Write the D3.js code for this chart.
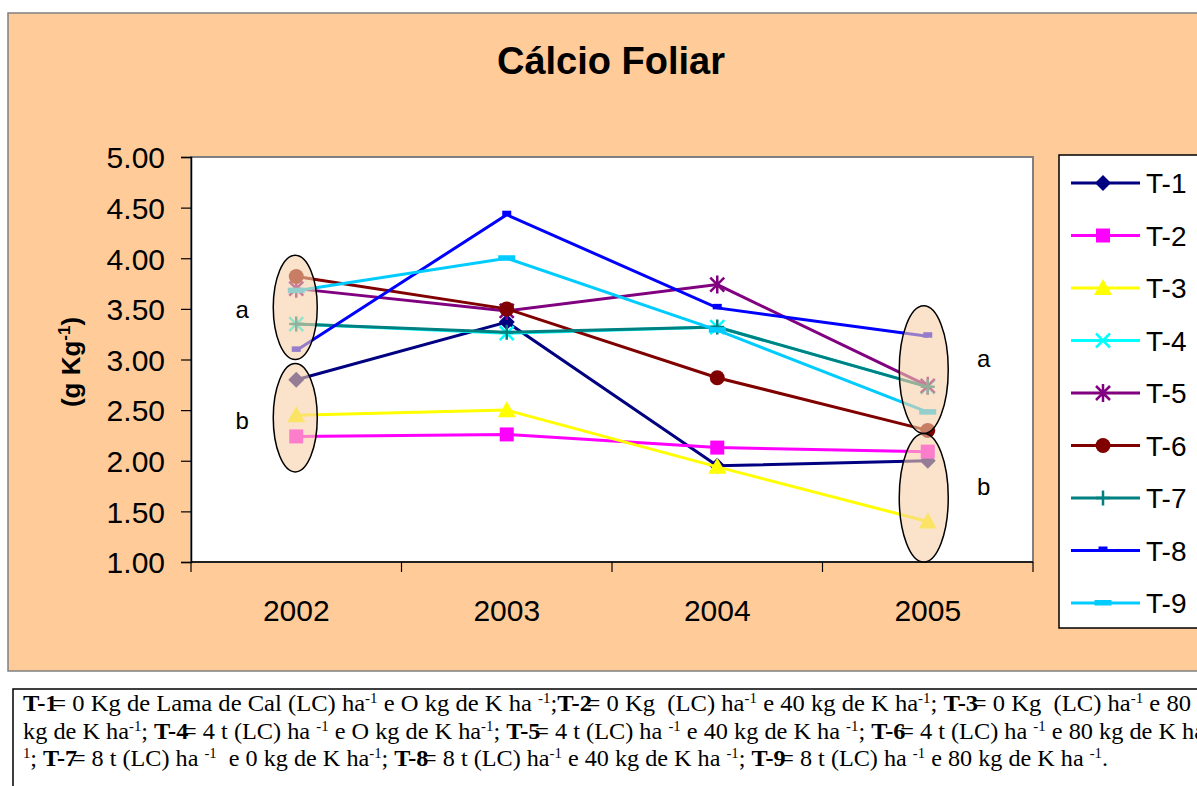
<!DOCTYPE html>
<html>
<head>
<meta charset="utf-8">
<script src="https://cdn.jsdelivr.net/npm/d3@7"></script>
<style>
  html, body { margin: 0; padding: 0; background: #fff; }
  svg { display: block; }
</style>
</head>
<body>
<svg id="chart" width="1197" height="786"></svg>
<script>
// Years and leaf calcium per treatment (g Kg-1)
const years = ["2002", "2003", "2004", "2005"];
const seriesNames = ["T-1", "T-2", "T-3", "T-4", "T-5", "T-6", "T-7", "T-8", "T-9"];
const t1 = [2.80, 3.37, 1.95, 2.00];
const t2 = [2.24, 2.26, 2.13, 2.09];
const t3 = [2.45, 2.50, 1.94, 1.40];
const t4 = [3.35, 3.26, 3.32, 2.73];
const t5 = [3.70, 3.48, 3.74, 2.74];
const t6 = [3.82, 3.50, 2.82, 2.30];
const t7 = [3.35, 3.27, 3.32, 2.73];
const t8 = [3.09, 4.43, 3.51, 3.23];
const t9 = [3.68, 4.00, 3.29, 2.48];
const seriesValues = [t1, t2, t3, t4, t5, t6, t7, t8, t9];
const yTicks = [1.00, 1.50, 2.00, 2.50, 3.00, 3.50, 4.00, 4.50, 5.00];

// Statistical groupings (a / b) circled at the first and last year
const groupYears = ["2002", "2002", "2005", "2005"];
const groupLetters = ["a", "b", "a", "b"];
const groupHigh = [4.03, 2.96, 3.53, 2.27];
const groupLow = [3.00, 1.89, 2.27, 1.00];
const groupLetterAt = [3.49, 2.40, 3.01, 1.74];

// Caption lines: [text, kind] with kind b = bold, s = superscript, n = normal
const captionLines = [
  [["T-1", "b"], ["= 0 Kg de Lama de Cal (LC) ha", "n"], ["-1", "s"], [" e O kg de K ha ", "n"], ["-1", "s"], [";", "n"],
   ["T-2", "b"], ["= 0 Kg  (LC) ha", "n"], ["-1", "s"], [" e 40 kg de K ha", "n"], ["-1", "s"], ["; ", "n"],
   ["T-3", "b"], ["= 0 Kg  (LC) ha", "n"], ["-1", "s"], [" e 80", "n"]],
  [["kg de K ha", "n"], ["-1", "s"], ["; ", "n"], ["T-4", "b"], ["= 4 t (LC) ha ", "n"], ["-1", "s"], [" e O kg de K ha", "n"], ["-1", "s"], ["; ", "n"],
   ["T-5", "b"], ["= 4 t (LC) ha ", "n"], ["-1", "s"], [" e 40 kg de K ha ", "n"], ["-1", "s"], ["; ", "n"],
   ["T-6", "b"], ["= 4 t (LC) ha ", "n"], ["-1", "s"], [" e 80 kg de K ha", "n"]],
  [["1", "s"], ["; ", "n"], ["T-7", "b"], ["= 8 t (LC) ha ", "n"], ["-1", "s"], ["  e 0 kg de K ha", "n"], ["-1", "s"], ["; ", "n"],
   ["T-8", "b"], ["= 8 t (LC) ha", "n"], ["-1", "s"], [" e 40 kg de K ha ", "n"], ["-1", "s"], ["; ", "n"],
   ["T-9", "b"], ["= 8 t (LC) ha ", "n"], ["-1", "s"], [" e 80 kg de K ha ", "n"], ["-1", "s"], [".", "n"]]
];

// Styling per series
const colors = ["#000080", "#FF00FF", "#FFFF00", "#00FFFF", "#800080", "#800000", "#008080", "#0000FF", "#00CCFF"];
const markers = ["diamond", "square", "triangle", "x", "star", "circle", "plus", "dash", "longdash"];

const svg = d3.select("#chart");
const font = "Arial, 'Liberation Sans', sans-serif";

// Chart area
svg.append("rect").attr("x", 8).attr("y", 13).attr("width", 1220).attr("height", 658)
  .attr("fill", "#FFCC99").attr("stroke", "#808080").attr("stroke-width", 1.5);

// Plot area
const plot = { left: 191, right: 1033, top: 157, bottom: 562 };
const x = d3.scaleBand().domain(years).range([plot.left, plot.right]).paddingInner(0).paddingOuter(0);
const cx = d => x(d) + x.bandwidth() / 2;
const y = d3.scaleLinear().domain([1, 5]).range([plot.bottom, plot.top]);

svg.append("rect").attr("x", plot.left).attr("y", plot.top)
  .attr("width", plot.right - plot.left).attr("height", plot.bottom - plot.top)
  .attr("fill", "#fff").attr("stroke", "#808080").attr("stroke-width", 2);

// Title
svg.append("text").attr("x", 611).attr("y", 74).attr("text-anchor", "middle")
  .attr("font-family", font).attr("font-weight", "bold").attr("font-size", 38)
  .text("Cálcio Foliar");

// Y axis
const yAxis = d3.axisLeft(y).tickValues(yTicks).tickFormat(d3.format(".2f")).tickSize(10).tickPadding(16);
const yg = svg.append("g").attr("transform", `translate(${plot.left},0)`).call(yAxis);
yg.select(".domain").attr("stroke", "#000").attr("stroke-width", 1.5);
yg.selectAll(".tick line").attr("stroke", "#000").attr("stroke-width", 1.2);
yg.selectAll(".tick text").attr("font-family", font).attr("font-size", 30).attr("fill", "#000")
  .attr("dy", "0.36em");

// X axis: ticks between categories
const xAxisG = svg.append("g").attr("transform", `translate(0,${plot.bottom})`);
xAxisG.append("line").attr("x1", plot.left).attr("x2", plot.right).attr("stroke", "#000").attr("stroke-width", 1.5);
const boundaries = years.map(d => x(d)).concat([plot.right]);
xAxisG.selectAll("line.tk").data(boundaries).join("line").attr("class", "tk")
  .attr("x1", d => d).attr("x2", d => d).attr("y1", 0).attr("y2", 10)
  .attr("stroke", "#000").attr("stroke-width", 1.2);
xAxisG.selectAll("text").data(years).join("text")
  .attr("x", d => cx(d)).attr("y", 59).attr("text-anchor", "middle")
  .attr("font-family", font).attr("font-size", 30).text(d => d);

// Y axis title
const yt = svg.append("text").attr("transform", "translate(80,362) rotate(-90)")
  .attr("text-anchor", "middle").attr("font-family", font).attr("font-weight", "bold").attr("font-size", 26);
yt.append("tspan").text("(g Kg");
yt.append("tspan").attr("font-size", 17).attr("dy", -10).text("-1");
yt.append("tspan").attr("dy", 10).text(")");

// Marker shapes
function drawMarker(g, type, color) {
  switch (type) {
    case "diamond":
      g.append("path").attr("d", "M0,-8L8,0L0,8L-8,0Z").attr("fill", color); break;
    case "square":
      g.append("rect").attr("x", -7).attr("y", -7).attr("width", 14).attr("height", 14).attr("fill", color); break;
    case "triangle":
      g.append("path").attr("d", "M0,-9L9,7L-9,7Z").attr("fill", color); break;
    case "x":
      g.append("path").attr("d", "M-7,-7L7,7M-7,7L7,-7").attr("stroke", color).attr("stroke-width", 2.5).attr("fill", "none"); break;
    case "star":
      g.append("path").attr("d", "M-7,-7L7,7M-7,7L7,-7M0,-9L0,9").attr("stroke", color).attr("stroke-width", 2.5).attr("fill", "none"); break;
    case "circle":
      g.append("circle").attr("r", 7.5).attr("fill", color); break;
    case "plus":
      g.append("path").attr("d", "M-7,0L7,0M0,-7.5L0,7.5").attr("stroke", color).attr("stroke-width", 2.5).attr("fill", "none"); break;
    case "dash":
      g.append("rect").attr("x", -4.5).attr("y", -4).attr("width", 9).attr("height", 5.5).attr("fill", color); break;
    case "longdash":
      g.append("rect").attr("x", -8.5).attr("y", -3).attr("width", 17).attr("height", 5.5).attr("fill", color); break;
  }
}

// Series lines and markers
const line = d3.line().x((d, i) => cx(years[i])).y(d => y(d));
const seriesG = svg.append("g");
seriesValues.forEach((vals, si) => {
  const g = seriesG.append("g");
  g.append("path").attr("d", line(vals)).attr("fill", "none")
    .attr("stroke", colors[si]).attr("stroke-width", 3).attr("stroke-linejoin", "miter");
  vals.forEach((v, i) => {
    const m = g.append("g").attr("transform", `translate(${cx(years[i])},${y(v)})`);
    drawMarker(m, markers[si], colors[si]);
  });
});

// Group ellipses and letters
const ellG = svg.append("g");
groupYears.forEach((yr, i) => {
  const first = yr === years[0];
  const ex = cx(yr) + (first ? -1 : -4);
  const top = y(groupHigh[i]), bot = y(groupLow[i]);
  ellG.append("ellipse").attr("cx", ex).attr("cy", (top + bot) / 2)
    .attr("rx", first ? 22 : 24.5).attr("ry", (bot - top) / 2)
    .attr("fill", "#F9D0A8").attr("fill-opacity", 0.6)
    .attr("stroke", "#000").attr("stroke-width", 1.5);
  ellG.append("text").attr("x", ex + (first ? -53 : 60)).attr("y", y(groupLetterAt[i]))
    .attr("dy", "0.35em").attr("text-anchor", "middle")
    .attr("font-family", font).attr("font-size", 24).text(groupLetters[i]);
});

// Legend
const legend = svg.append("g");
legend.append("rect").attr("x", 1059).attr("y", 155).attr("width", 200).attr("height", 473)
  .attr("fill", "#fff").attr("stroke", "#000").attr("stroke-width", 1.5);
seriesNames.forEach((name, i) => {
  const ly = 183 + i * 52.5;
  const g = legend.append("g");
  g.append("line").attr("x1", 1071).attr("x2", 1140).attr("y1", ly).attr("y2", ly)
    .attr("stroke", colors[i]).attr("stroke-width", 3);
  drawMarker(g.append("g").attr("transform", `translate(1103,${ly})`), markers[i], colors[i]);
  g.append("text").attr("x", 1146).attr("y", ly).attr("dy", "0.36em")
    .attr("font-family", font).attr("font-size", 28).text(name);
});

// Caption box with treatment descriptions
svg.append("rect").attr("x", 13).attr("y", 689).attr("width", 1220).attr("height", 120)
  .attr("fill", "#fff").attr("stroke", "#000").attr("stroke-width", 1.5);
const capFont = "'Times New Roman', 'Liberation Serif', serif";
const lineBase = [711, 739, 766];
const lineLen = [1168, 1182, 1085];
captionLines.forEach((segs, li) => {
  const t = svg.append("text").attr("x", 23).attr("y", lineBase[li])
    .attr("font-family", capFont).attr("font-size", 23)
    .attr("textLength", lineLen[li]).attr("lengthAdjust", "spacingAndGlyphs")
    .attr("xml:space", "preserve").style("white-space", "pre");
  let raised = false;
  segs.forEach(([txt, kind], si) => {
    const sp = t.append("tspan").text(txt);
    if (kind === "s") {
      sp.attr("font-size", 14).attr("dy", raised ? 0 : -8);
      raised = true;
    } else {
      if (raised) sp.attr("dy", 8);
      raised = false;
      if (kind === "b") sp.attr("font-weight", "bold");
      if (kind === "n" && si > 0 && segs[si - 1][1] === "b" && txt.startsWith("=")) sp.attr("dx", -5);
    }
  });
});
</script>
</body>
</html>
